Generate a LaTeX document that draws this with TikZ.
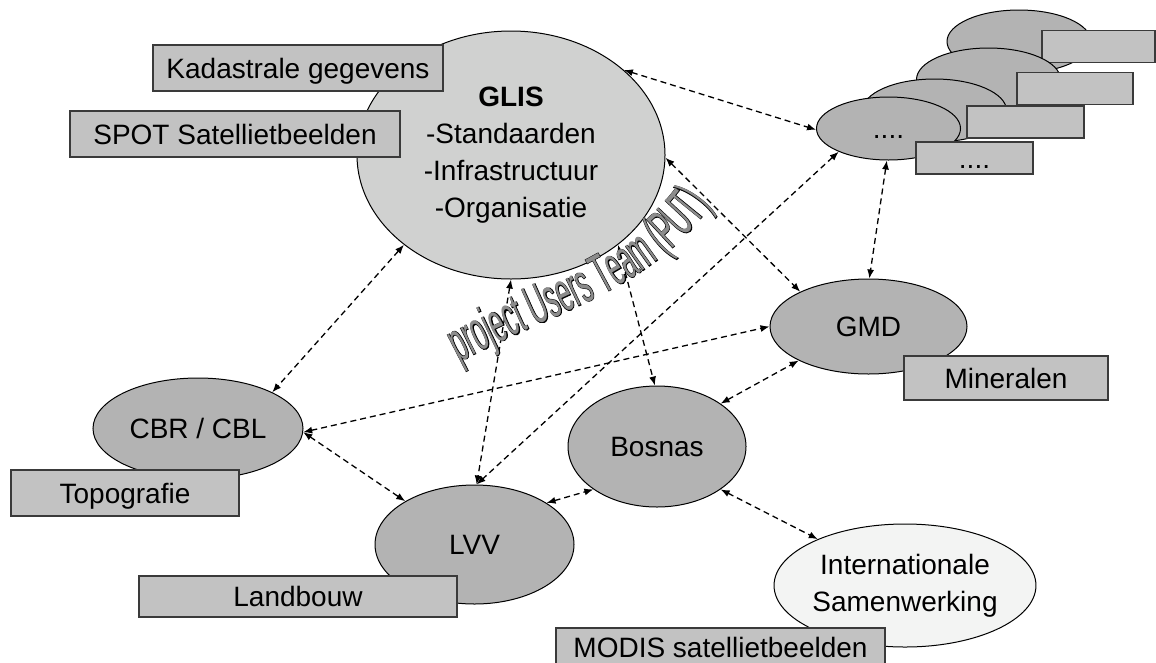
\documentclass[tikz,border=0pt]{standalone}
\usepackage{fontspec}
\setmainfont{Liberation Sans}
\newfontfamily\putfont[FakeStretch=0.46]{Liberation Sans}
\newfontfamily\putfontbold[FakeStretch=0.46,FakeBold=1.6]{Liberation Sans}
\usetikzlibrary{shapes.geometric,arrows.meta,decorations.text}

\definecolor{glisfill}{HTML}{D0D1D0}
\definecolor{orgfill}{HTML}{B3B3B3}
\definecolor{boxfill}{HTML}{C2C2C2}
\definecolor{intlfill}{HTML}{F3F4F3}
\definecolor{boxline}{HTML}{3A3A3A}
\definecolor{putgray}{HTML}{8C8C8C}

\begin{document}
\begin{tikzpicture}[x=1pt,y=-1pt,
  every node/.style={font=\fontsize{28}{37}\selectfont, inner sep=0pt},
  oneline/.style={text height=26pt, text depth=6pt},
  org/.style={ellipse, draw=black, line width=1pt, fill=orgfill},
  stackell/.style={org, minimum width=144pt, minimum height=63pt, oneline},
  labelbox/.style={rectangle, draw=boxline, line width=1.3pt, fill=boxfill, oneline},
  link/.style={dash pattern=on 6pt off 4pt, line width=1.3pt,
    {Latex[length=9pt,width=7pt]}-{Latex[length=9pt,width=7pt]}},
]
\useasboundingbox (0,0) rectangle (1156,662);

% GLIS
\node[ellipse, draw=black, line width=1pt, fill=glisfill, minimum width=308pt, minimum height=248pt, align=center]
  (glis) at (511,155) {\textbf{GLIS}\\-Standaarden\\-Infrastructuur\\-Organisatie};
\node[labelbox, minimum width=290pt, minimum height=46pt] (kad) at (298,68) {Kadastrale gegevens};
\node[labelbox, minimum width=330pt, minimum height=46pt] (spot) at (235,134) {SPOT Satellietbeelden};

% stacked partners (top right)
\node[stackell] (e1) at (1019,41.5) {};
\node[labelbox, minimum width=113pt, minimum height=27pt] (r1) at (1098.5,46.5) {};
\node[stackell] (e2) at (988.5,79.5) {};
\node[labelbox, minimum width=116pt, minimum height=27pt] (r2) at (1075,88.5) {};
\node[stackell] (e3) at (934.5,110.5) {};
\node[labelbox, minimum width=117pt, minimum height=28pt] (r3) at (1025.5,122) {};
\node[stackell] (e4) at (888.5,128.5) {....};
\node[labelbox, minimum width=117pt, minimum height=28pt] (r4) at (974.5,158) {....};

% GMD
\node[org, oneline, minimum width=197pt, minimum height=95pt] (gmd) at (868.5,326.5) {GMD};
\node[labelbox, minimum width=204pt, minimum height=44pt] (mineralen) at (1006,378) {Mineralen};

% CBR / CBL
\node[org, oneline, minimum width=210pt, minimum height=101pt] (cbr) at (198,428.5) {CBR / CBL};
\node[labelbox, minimum width=228pt, minimum height=46pt] (topo) at (125,493) {Topografie};

% Bosnas
\node[org, oneline, minimum width=178pt, minimum height=121pt] (bosnas) at (657,446.5) {Bosnas};

% LVV
\node[org, oneline, minimum width=199pt, minimum height=119pt] (lvv) at (474.5,544.5) {LVV};
\node[labelbox, minimum width=318pt, minimum height=41pt] (landbouw) at (298,596.5) {Landbouw};

% Internationale Samenwerking
\node[ellipse, draw=black, line width=1pt, fill=intlfill, minimum width=250pt, minimum height=123pt, align=center]
  (intl) at (905,585.5) {Internationale\\Samenwerking};
\node[labelbox, minimum width=329pt, minimum height=46pt, text height=20pt, text depth=8pt] (modis) at (720.5,651) {MODIS satellietbeelden};

% connectors
\draw[link] (glis.37) -- (e4.181);
\draw[link] (glis.-1) -- (gmd.153);
\draw[link] (e4.-93) -- (gmd.89);
\draw[link] (e4.205) -- (lvv.88);
\draw[link] (glis.-40) -- (bosnas.92);
\draw[link] (glis.-90) -- (lvv.88);
\draw[link] (glis.220) -- (cbr.26);
\draw[link] (cbr.-2) -- (gmd.180);
\draw[link] (cbr.-2) -- (lvv.148);
\draw[link] (lvv.30) -- (bosnas.214);
\draw[link] (bosnas.34) -- (gmd.206);
\draw[link] (bosnas.-34) -- (intl.152);

% curved WordArt label: black emboldened copy under a grey copy gives an outline
\coordinate (putA) at (452,366);
\coordinate (putB) at (560,308);
\coordinate (putC) at (655,290);
\coordinate (putD) at (716,198);
\path[decorate, decoration={text along path, text align=center, text color=black,
    text format delimiters={|}{|},
    text={|\putfontbold\fontsize{56}{56}\selectfont|project Users Team (PUT)}}]
  (putA) .. controls (putB) and (putC) .. (putD);
\path[decorate, decoration={text along path, text align=center, text color=putgray,
    text format delimiters={|}{|},
    text={|\putfont\fontsize{56}{56}\selectfont|project Users Team (PUT)}}]
  (putA) .. controls (putB) and (putC) .. (putD);
\end{tikzpicture}
\end{document}
